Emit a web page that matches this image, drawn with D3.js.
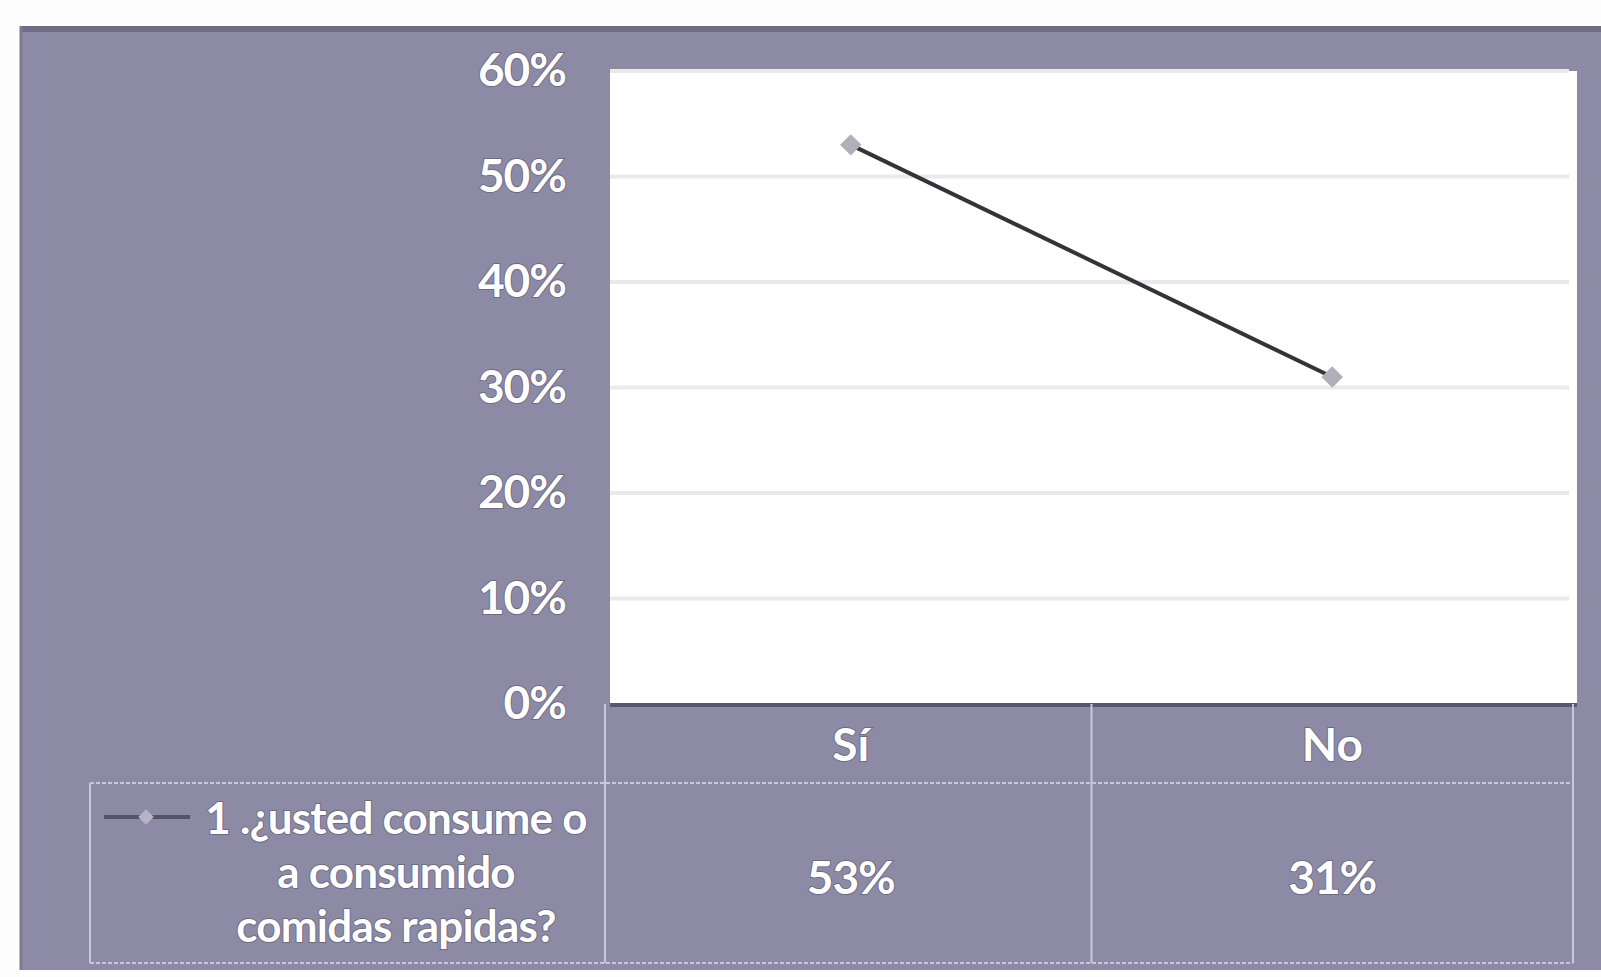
<!DOCTYPE html>
<html>
<head>
<meta charset="utf-8">
<script src="https://cdn.jsdelivr.net/npm/d3@7"></script>
<style>
  html, body { margin: 0; padding: 0; background: #fdfdfd; }
  svg { display: block; }
  text { font-family: Lato, "Open Sans", sans-serif; }
</style>
</head>
<body>
<svg id="chart" width="1601" height="977"></svg>
<script>
// Survey answers and their shares
const categories = ["Sí", "No"];
const values = [0.53, 0.31];
const valueLabels = ["53%", "31%"];
const seriesName = ["1 .¿usted consume o", "a consumido", "comidas rapidas?"];
const yTicks = [0, 0.1, 0.2, 0.3, 0.4, 0.5, 0.6];

const svg = d3.select("#chart");
const W = 1601, H = 977;

// Frame and plot geometry
const panel = { x: 20, y: 26, w: 1600, h: 944 };
const plot = { left: 610, right: 1577, top: 71, bottom: 704 };
const table = { left: 90, split: 610, right: 1573, row1: 704, row2: 783, bottom: 963 };

const y = d3.scaleLinear().domain([0, 0.6]).range([plot.bottom, plot.top]);
const x = d3.scaleBand().domain(categories).range([table.split, table.right]).paddingInner(0).paddingOuter(0);
const cx = d => x(d) + x.bandwidth() / 2;

// Grey-lavender chart area
svg.append("rect")
  .attr("x", panel.x).attr("y", panel.y)
  .attr("width", panel.w).attr("height", panel.h)
  .attr("fill", "#8d8aa5");
svg.append("line")
  .attr("x1", panel.x).attr("x2", W)
  .attr("y1", panel.y + 3).attr("y2", panel.y + 3)
  .attr("stroke", "#706d84").attr("stroke-width", 6);
svg.append("line")
  .attr("x1", panel.x + 1).attr("x2", panel.x + 1)
  .attr("y1", panel.y).attr("y2", panel.y + panel.h)
  .attr("stroke", "#7c7994").attr("stroke-width", 3);

// White plot area
svg.append("rect")
  .attr("x", plot.left).attr("y", plot.top)
  .attr("width", plot.right - plot.left).attr("height", plot.bottom - plot.top)
  .attr("fill", "#ffffff");

// Horizontal gridlines
svg.append("g")
  .selectAll("line")
  .data(yTicks.filter(t => t > 0))
  .join("line")
  .attr("x1", plot.left).attr("x2", plot.right - 8)
  .attr("y1", d => y(d)).attr("y2", d => y(d))
  .attr("stroke", "#e9e9ed").attr("stroke-width", 4);

const textStyle = sel => sel
  .attr("fill", "#ffffff")
  .attr("font-size", 46)
  .attr("font-weight", 700)
  .attr("font-family", "Lato, sans-serif")
  .style("paint-order", "stroke")
  .attr("stroke", "rgba(60,55,80,0.4)").attr("stroke-width", 2);

// Value axis labels
const yAxis = d3.axisLeft(y).tickValues(yTicks).tickFormat(d3.format(".0%")).tickSize(0).tickPadding(0);
const yg = svg.append("g").attr("transform", `translate(566,0)`).call(yAxis);
yg.select(".domain").remove();
yg.selectAll("text").call(textStyle).attr("letter-spacing", -1);

// Bottom axis line of the plot
svg.append("line")
  .attr("x1", plot.left).attr("x2", plot.right)
  .attr("y1", plot.bottom + 1).attr("y2", plot.bottom + 1)
  .attr("stroke", "#58566c").attr("stroke-width", 4);

// Data table grid
const grid = svg.append("g")
  .attr("stroke", "#c9c7d8").attr("stroke-width", 2).attr("fill", "none");
grid.append("line").attr("x1", table.split - 5).attr("x2", table.split - 5).attr("y1", table.row1).attr("y2", table.bottom);
grid.append("line").attr("x1", table.right).attr("x2", table.right).attr("y1", table.row1).attr("y2", table.bottom);
grid.append("line").attr("x1", x("No")).attr("x2", x("No")).attr("y1", table.row1).attr("y2", table.bottom);
grid.append("line").attr("x1", table.left).attr("x2", table.right).attr("y1", table.row2).attr("y2", table.row2).attr("stroke-dasharray", "4 2");
grid.append("line").attr("x1", table.left).attr("x2", table.right).attr("y1", table.bottom).attr("y2", table.bottom).attr("stroke-dasharray", "4 2");
grid.append("line").attr("x1", table.left).attr("x2", table.left).attr("y1", table.row2).attr("y2", table.bottom);

const labelStyle = sel => sel
  .call(textStyle)
  .attr("text-anchor", "middle")
  .attr("dominant-baseline", "central");

// Category header row
svg.append("g").selectAll("text")
  .data(categories)
  .join("text")
  .attr("x", d => cx(d))
  .attr("y", (table.row1 + table.row2) / 2)
  .text(d => d)
  .call(labelStyle);

// Value row
svg.append("g").selectAll("text")
  .data(categories)
  .join("text")
  .attr("x", d => cx(d))
  .attr("y", 876)
  .text((d, i) => valueLabels[i])
  .call(labelStyle)
  .attr("letter-spacing", -1);

// Series legend inside the table
const legendX = 396;
svg.append("g").selectAll("text")
  .data(seriesName)
  .join("text")
  .attr("x", legendX)
  .attr("y", (d, i) => 817 + i * 54)
  .text(d => d)
  .call(labelStyle)
  .attr("font-size", 44)
  .attr("letter-spacing", -0.8);

svg.append("line")
  .attr("x1", 104).attr("x2", 190).attr("y1", 817).attr("y2", 817)
  .attr("stroke", "#55536b").attr("stroke-width", 4);
svg.append("path")
  .attr("d", d3.symbol(d3.symbolSquare, 120)())
  .attr("transform", "translate(146,817) rotate(45)")
  .attr("fill", "#b6b4c6");

// Series line and markers
const line = d3.line().x((d, i) => cx(categories[i])).y(d => y(d));
svg.append("path")
  .datum(values)
  .attr("d", line)
  .attr("fill", "none")
  .attr("stroke", "#333338")
  .attr("stroke-width", 4);

svg.append("g").selectAll("path")
  .data(values)
  .join("path")
  .attr("d", d3.symbol(d3.symbolSquare, 230)())
  .attr("transform", (d, i) => `translate(${cx(categories[i])},${y(d)}) rotate(45)`)
  .attr("fill", "#b0b0b8");
</script>
</body>
</html>
